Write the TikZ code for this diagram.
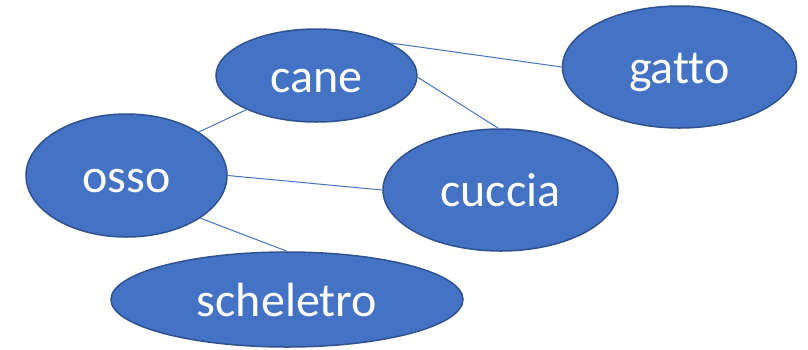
\documentclass[tikz,border=0pt]{standalone}
\usepackage{fontspec}
\setmainfont{Carlito}[Ligatures={NoCommon}]
\usetikzlibrary{shapes.geometric}
\definecolor{nodefill}{HTML}{4472C4}
\definecolor{nodeedge}{HTML}{2F528F}
\tikzset{
  blob/.style={ellipse, fill=nodefill, draw=nodeedge, line width=1.5pt, inner sep=0pt,
    text=white, font=\fontsize{48}{52}\selectfont, text height=40pt, text depth=7pt},
  link/.style={draw=nodefill, line width=1pt}
}
\begin{document}
\begin{tikzpicture}[x=1pt,y=-1pt]
\useasboundingbox (0,0) rectangle (808,349);
\node[blob, minimum width=201pt, minimum height=93pt] (cane) at (316.5,75.5) {cane};
\node[blob, minimum width=234pt, minimum height=122pt] (gatto) at (679.5,67) {gatto};
\node[blob, minimum width=201pt, minimum height=123pt] (osso) at (126.5,175.5) {osso};
\node[blob, minimum width=235pt, minimum height=122pt] (cuccia) at (500.5,190) {cuccia};
\node[blob, minimum width=352pt, minimum height=95pt] (scheletro) at (287,299.5) {scheletro};
\draw[link] (cane.24) -- (gatto.180);
\draw[link] (cane.-1) -- (cuccia.92);
\draw[link] (osso.31) -- (cane.206);
\draw[link] (osso.0) -- (cuccia.180);
\draw[link] (osso.-30) -- (scheletro.90);
\end{tikzpicture}
\end{document}
